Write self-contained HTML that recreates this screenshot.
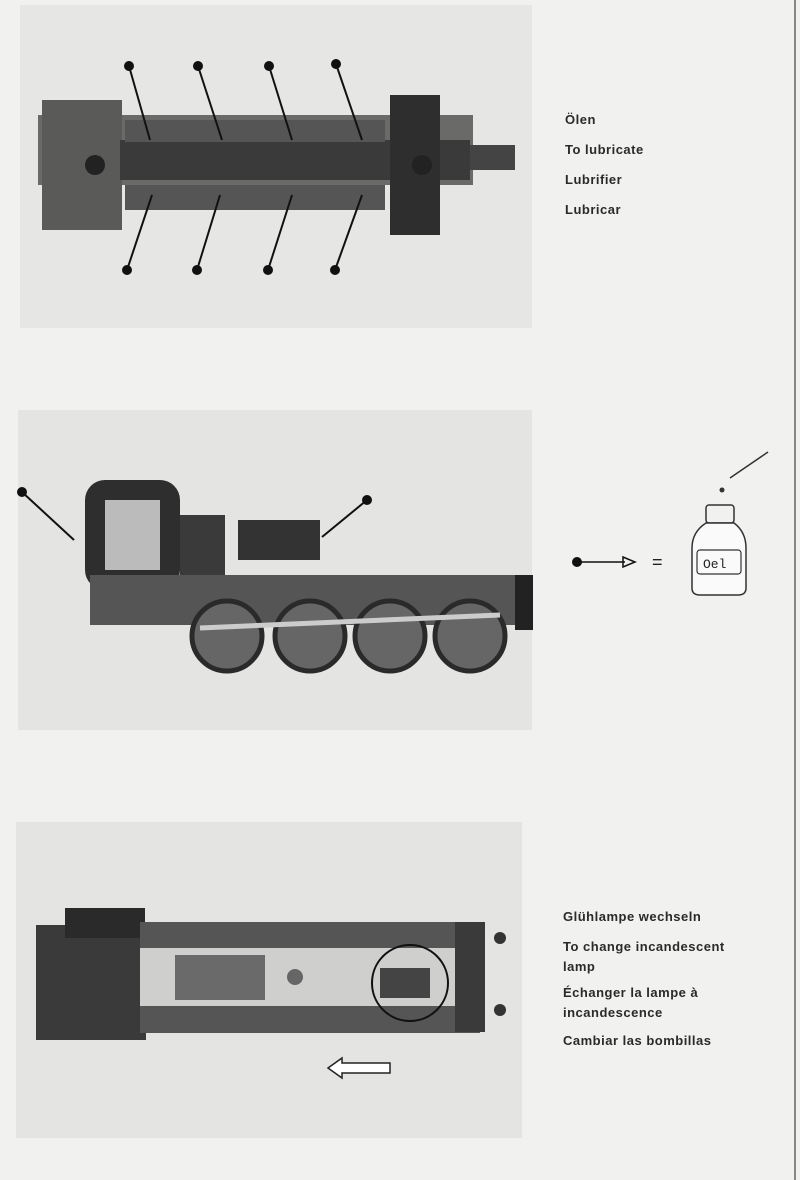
<!DOCTYPE html>
<html><head><meta charset="utf-8"><style>
html,body{margin:0;padding:0;background:#f1f1ef;width:800px;height:1180px;overflow:hidden;font-family:"Liberation Sans",sans-serif}
.t{position:absolute;left:565px;font-size:13px;font-weight:bold;color:#2a2a2a;letter-spacing:0.5px}
</style></head><body>
<svg width="800" height="1180" style="position:absolute;left:0;top:0">
<line x1="795" y1="0" x2="795" y2="1180" stroke="#888" stroke-width="2"/>
<!-- photo 1 -->
<rect x="20" y="5" width="512" height="323" fill="#e6e6e4"/>
<g fill="#4a4a4a">
<rect x="38" y="115" width="435" height="70" fill="#6a6a68"/>
<rect x="42" y="100" width="80" height="130" fill="#5a5a58"/>
<rect x="120" y="140" width="350" height="40" fill="#3a3a3a"/>
<rect x="390" y="95" width="50" height="140" fill="#2e2e2e"/>
<rect x="125" y="120" width="260" height="22" fill="#555"/>
<rect x="125" y="185" width="260" height="25" fill="#555"/>
<rect x="470" y="145" width="45" height="25" fill="#444"/>
<circle cx="95" cy="165" r="10" fill="#222"/>
<circle cx="422" cy="165" r="10" fill="#222"/>
</g>
<g fill="#111" stroke="#111" stroke-width="2">
<circle cx="129" cy="66" r="4"/><line x1="129" y1="66" x2="150" y2="140"/>
<circle cx="198" cy="66" r="4"/><line x1="198" y1="66" x2="222" y2="140"/>
<circle cx="269" cy="66" r="4"/><line x1="269" y1="66" x2="292" y2="140"/>
<circle cx="336" cy="64" r="4"/><line x1="336" y1="64" x2="362" y2="140"/>
<circle cx="127" cy="270" r="4"/><line x1="127" y1="270" x2="152" y2="195"/>
<circle cx="197" cy="270" r="4"/><line x1="197" y1="270" x2="220" y2="195"/>
<circle cx="268" cy="270" r="4"/><line x1="268" y1="270" x2="292" y2="195"/>
<circle cx="335" cy="270" r="4"/><line x1="335" y1="270" x2="362" y2="195"/>
</g>
<!-- photo 2 -->
<rect x="18" y="410" width="514" height="320" fill="#e4e4e2"/>
<g>
<rect x="85" y="480" width="95" height="110" rx="20" fill="#2e2e2e"/>
<rect x="105" y="500" width="55" height="70" fill="#bbb"/>
<rect x="180" y="515" width="45" height="65" fill="#3a3a3a"/>
<rect x="238" y="520" width="82" height="40" fill="#333"/>
<rect x="90" y="575" width="440" height="50" fill="#555"/>
<rect x="515" y="575" width="18" height="55" fill="#222"/>
<circle cx="227" cy="636" r="35" fill="#666" stroke="#2a2a2a" stroke-width="5"/>
<circle cx="310" cy="636" r="35" fill="#666" stroke="#2a2a2a" stroke-width="5"/>
<circle cx="390" cy="636" r="35" fill="#666" stroke="#2a2a2a" stroke-width="5"/>
<circle cx="470" cy="636" r="35" fill="#666" stroke="#2a2a2a" stroke-width="5"/>
<line x1="200" y1="628" x2="500" y2="615" stroke="#ccc" stroke-width="5"/>
</g>
<g fill="#111" stroke="#111" stroke-width="2">
<circle cx="22" cy="492" r="4"/><line x1="22" y1="492" x2="74" y2="540"/>
<circle cx="367" cy="500" r="4"/><line x1="367" y1="500" x2="322" y2="537"/>
</g>
<!-- legend -->
<circle cx="577" cy="562" r="5" fill="#111"/>
<line x1="577" y1="562" x2="625" y2="562" stroke="#111" stroke-width="1.5"/>
<polygon points="623,557 635,562 623,567" fill="none" stroke="#111" stroke-width="1.5"/>
<text x="652" y="568" font-size="18" font-family="Liberation Sans" fill="#222">=</text>
<line x1="730" y1="478" x2="768" y2="452" stroke="#333" stroke-width="1.5"/>
<circle cx="722" cy="490" r="2.5" fill="#333"/>
<rect x="706" y="505" width="28" height="18" rx="3" fill="none" stroke="#333" stroke-width="1.5"/>
<path d="M706 523 Q692 532 692 548 L692 588 Q692 595 700 595 L738 595 Q746 595 746 588 L746 548 Q746 532 734 523 Z" fill="#fafafa" stroke="#333" stroke-width="1.5"/>
<rect x="697" y="550" width="44" height="24" rx="3" fill="none" stroke="#333" stroke-width="1.2"/>
<text x="703" y="568" font-size="13" font-family="Liberation Mono" fill="#222">Oel</text>
<!-- photo 3 -->
<rect x="16" y="822" width="506" height="316" fill="#e4e4e2"/>
<rect x="36" y="925" width="110" height="115" fill="#3a3a3a"/>
<rect x="65" y="908" width="80" height="30" fill="#2a2a2a"/>
<rect x="140" y="922" width="340" height="30" fill="#555"/>
<rect x="140" y="1003" width="340" height="30" fill="#555"/>
<rect x="140" y="948" width="320" height="58" fill="#cfcfcd"/>
<rect x="175" y="955" width="90" height="45" fill="#6a6a6a"/>
<circle cx="295" cy="977" r="8" fill="#666"/>
<rect x="455" y="922" width="30" height="110" fill="#3a3a3a"/>
<circle cx="410" cy="983" r="38" fill="none" stroke="#111" stroke-width="2"/>
<rect x="380" y="968" width="50" height="30" fill="#444"/>
<circle cx="500" cy="938" r="6" fill="#333"/><circle cx="500" cy="1010" r="6" fill="#333"/>
<polygon points="328,1068 342,1058 342,1063 390,1063 390,1073 342,1073 342,1078" fill="#fff" stroke="#222" stroke-width="1.5"/>
</svg>
<div class="t" style="top:112px">Ölen</div>
<div class="t" style="top:142px">To lubricate</div>
<div class="t" style="top:172px">Lubrifier</div>
<div class="t" style="top:202px">Lubricar</div>
<div class="t" style="top:909px;left:563px">Glühlampe wechseln</div>
<div class="t" style="top:939px;left:563px">To change incandescent</div>
<div class="t" style="top:959px;left:563px">lamp</div>
<div class="t" style="top:985px;left:563px">Échanger la lampe à</div>
<div class="t" style="top:1005px;left:563px">incandescence</div>
<div class="t" style="top:1033px;left:563px">Cambiar las bombillas</div>
</body></html>
